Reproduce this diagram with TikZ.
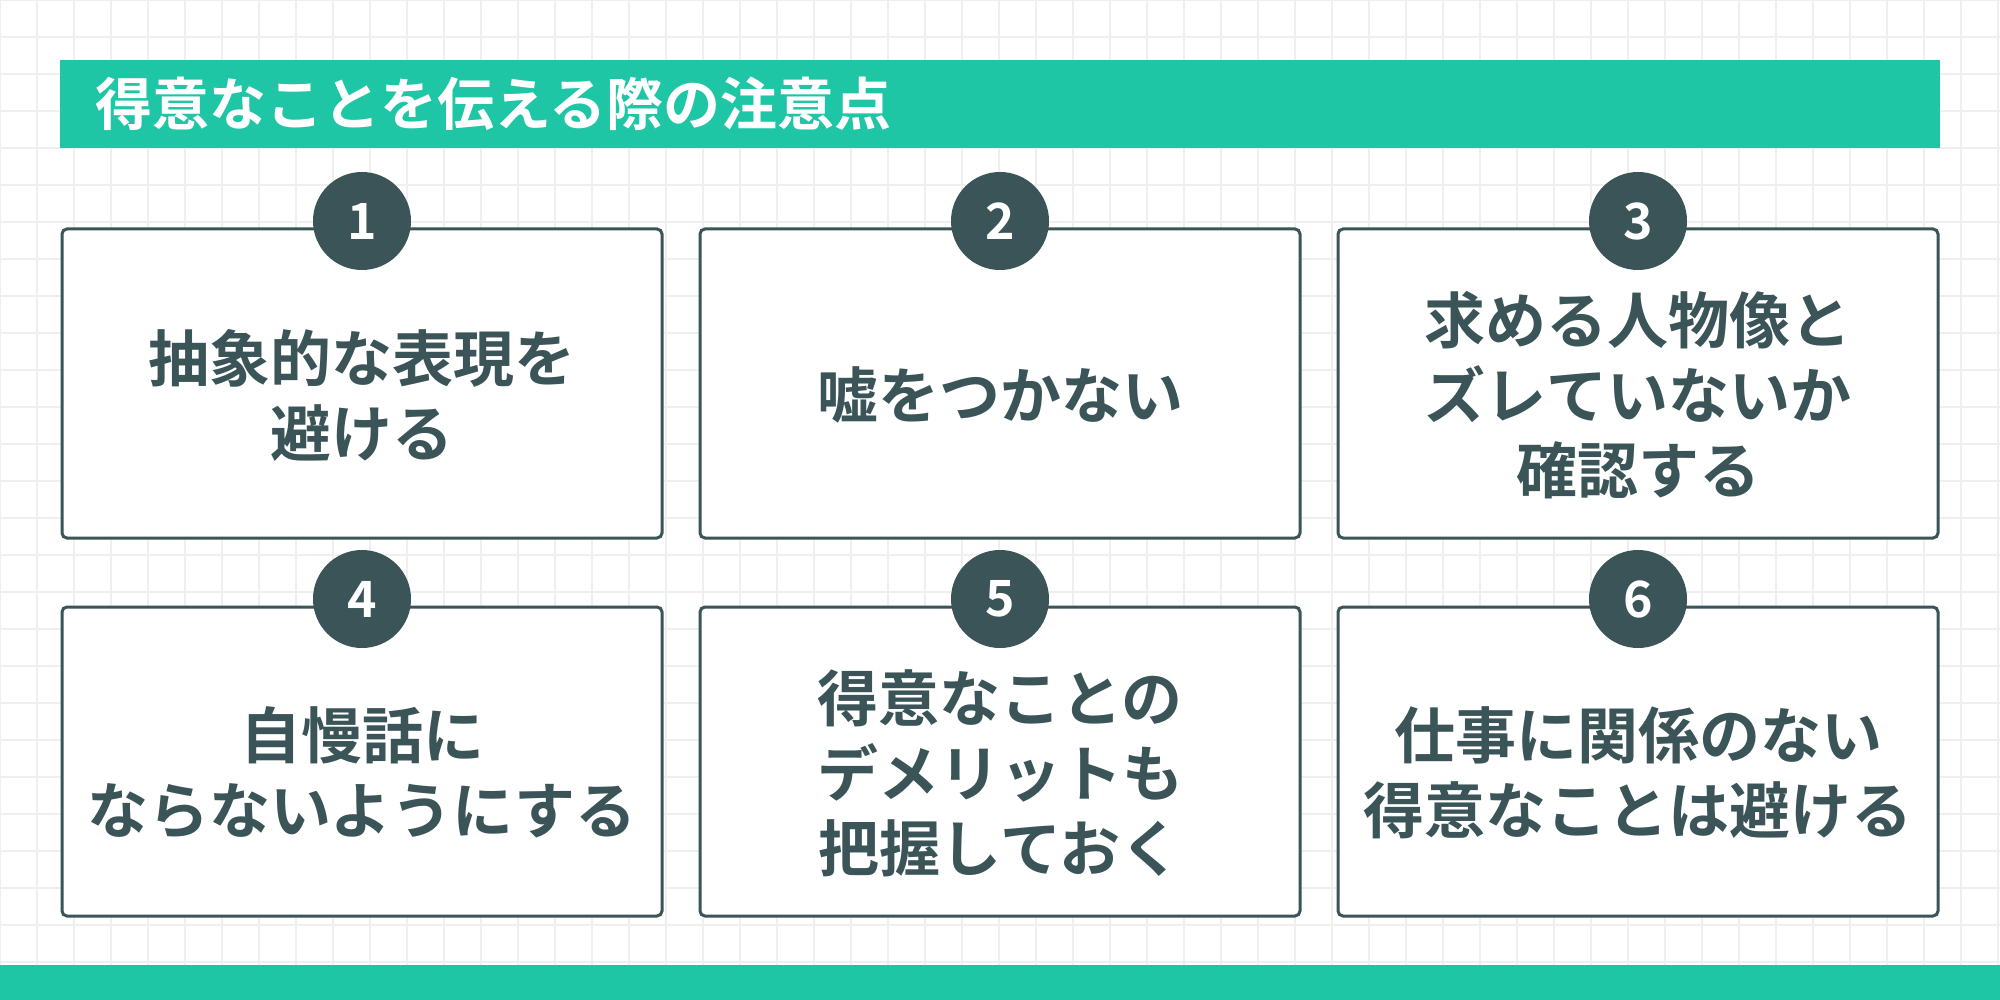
\documentclass[tikz,border=0pt]{standalone}
\usepackage{fontspec}
\newfontfamily\cjk{Noto Sans CJK JP}[UprightFont=* Bold]
\definecolor{teal}{HTML}{1FC6A6}
\definecolor{dark}{HTML}{3B5457}
\definecolor{gridc}{HTML}{EFEFEF}
\begin{document}
\begin{tikzpicture}[x=1pt,y=-1pt,
  card/.style={draw=dark,line width=3pt,rounded corners=5pt,fill=white},
  num/.style={circle,fill=dark,minimum size=98pt,inner sep=0pt,text=white,font=\cjk\fontsize{50}{50}\selectfont},
  txt/.style={text=dark,align=center,font=\cjk\fontsize{61}{75}\selectfont}]
\useasboundingbox (0,0) rectangle (2000,1000);
\fill[white] (0,0) rectangle (2000,1000);
\foreach \i in {0,37,...,2000} \draw[gridc,line width=1.5pt] (\i,0) -- (\i,1000);
\foreach \j in {0,37,...,1000} \draw[gridc,line width=1.5pt] (0,\j) -- (2000,\j);
\fill[teal] (60,60) rectangle (1940,148);
\node[anchor=west,text=white,font=\cjk\fontsize{57}{57}\selectfont] (title) at (92,104) {得意なことを伝える際の注意点};
\fill[teal] (0,965) rectangle (2000,1000);
\foreach \n/\x/\y/\t in {1/62/229/{抽象的な表現を\\避ける},2/700/229/{嘘をつかない},3/1338/229/{求める人物像と\\ズレていないか\\確認する},4/62/607/{自慢話に\\ならないようにする},5/700/607/{得意なことの\\デメリットも\\把握しておく},6/1338/607/{仕事に関係のない\\得意なことは避ける}}{
  \draw[card] (\x,\y) rectangle ++(600,309);
  \node[num] (c\n) at (\x+300,\y-8) {\n};
  \node[txt] (t\n) at (\x+300,\y+166) {\t};
}
\end{tikzpicture}
\end{document}
